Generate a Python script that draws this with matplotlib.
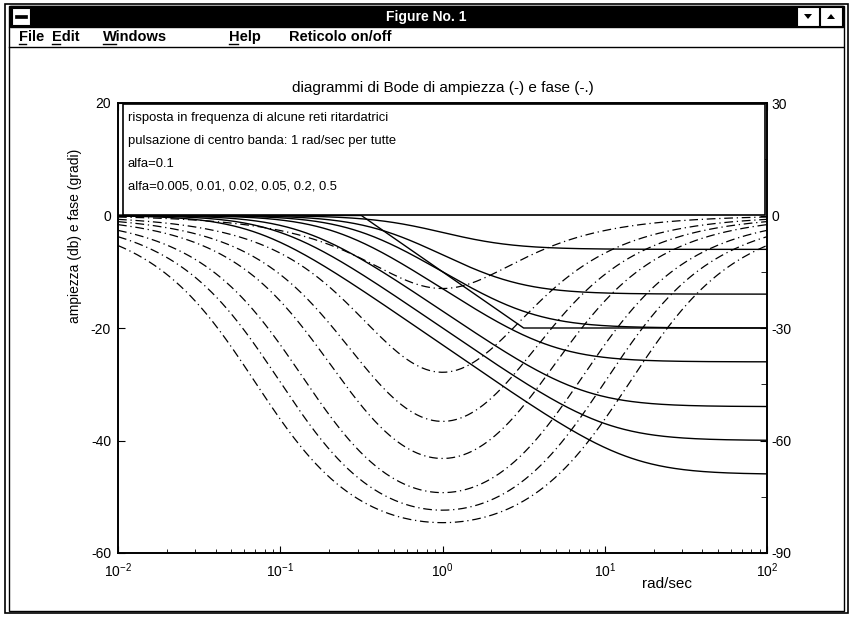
import numpy as np
import matplotlib.pyplot as plt
from matplotlib.patches import Rectangle, Polygon

plt.rcParams['font.family'] = ['Liberation Sans', 'DejaVu Sans']
plt.rcParams['axes.unicode_minus'] = False

# reti ritardatrici G(s) = (1 + alfa*T*s) / (1 + T*s), centro banda 1 rad/sec
alfa_values = [0.005, 0.01, 0.02, 0.05, 0.1, 0.2, 0.5]
alfa_asym = 0.1
w_min, w_max = 1e-2, 1e2

title = "diagrammi di Bode di ampiezza (-) e fase (-.)"
note_lines = [
    "risposta in frequenza di alcune reti ritardatrici",
    "pulsazione di centro banda: 1 rad/sec per tutte",
    "alfa=0.1",
    "alfa=0.005, 0.01, 0.02, 0.05, 0.2, 0.5",
]
menu_items = ["File", "Edit", "Windows", "Help", "Reticolo on/off"]
menu_x = [19, 52, 103, 229, 289]
menu_ul = [7, 8, 13, 9, 0]   # underline width of first letter (px)

w = np.logspace(np.log10(w_min), np.log10(w_max), 500)

fig = plt.figure(figsize=(8.51, 6.17), dpi=100)

# window chrome, drawn in pixel coordinates
bg = fig.add_axes([0, 0, 1, 1])
bg.set_xlim(0, 851)
bg.set_ylim(617, 0)
bg.axis('off')
bg.add_patch(Rectangle((5, 4), 843, 609, fill=False, lw=1.2, ec='black'))
bg.add_patch(Rectangle((9, 6), 835, 605, fill=False, lw=1.0, ec='black'))
bg.add_patch(Rectangle((10, 6), 833, 21, fc='black', ec='black'))
bg.add_patch(Rectangle((12, 8), 18, 17, fc='white', ec='black', lw=0.8))
bg.add_patch(Rectangle((15, 15), 12, 3, fc='black', ec='black', lw=0.5))
bg.add_patch(Rectangle((797, 7), 22, 19, fc='white', ec='black', lw=0.8))
bg.add_patch(Rectangle((820, 7), 22, 19, fc='white', ec='black', lw=0.8))
bg.add_patch(Polygon([(804, 14), (812, 14), (808, 19)], fc='black'))
bg.add_patch(Polygon([(827, 19), (835, 19), (831, 14)], fc='black'))
bg.text(426, 16.5, "Figure No. 1", color='white', fontsize=10, fontweight='bold',
        ha='center', va='center')
bg.plot([9, 843], [47, 47], color='black', lw=1.0)
for name, x, ul in zip(menu_items, menu_x, menu_ul):
    bg.text(x, 37, name, fontsize=10.5, fontweight='bold', ha='left', va='center')
    if ul:
        bg.plot([x, x + ul], [44, 44], color='black', lw=1.0)

# Bode plot
ax = fig.add_axes([118 / 851, 1 - 553 / 617, 649 / 851, 450 / 617])
ax2 = ax.twinx()

for alfa in alfa_values:
    T = 1 / np.sqrt(alfa)
    G = (1 + 1j * alfa * T * w) / (1 + 1j * T * w)
    ax.plot(w, 20 * np.log10(np.abs(G)), color='black', lw=1.0)
    ax2.plot(w, np.degrees(np.angle(G)), color='black', lw=0.9,
             linestyle=(0, (7, 3, 1, 3)))

# asintoti per alfa=0.1
wa = [w_min, np.sqrt(alfa_asym), 1 / np.sqrt(alfa_asym), w_max]
ma = [0, 0, 20 * np.log10(alfa_asym), 20 * np.log10(alfa_asym)]
ax.plot(wa, ma, color='black', lw=1.0)

ax.set_xscale('log')
ax.set_xlim(w_min, w_max)
ax.set_ylim(-60, 20)
ax.set_yticks([20, 0, -20, -40, -60])
ax2.set_ylim(-90, 30)
ax2.set_yticks([30, 0, -30, -60, -90])
ax2.set_yticks([15, -15, -45, -75], minor=True)
ax.tick_params(direction='in', which='both', top=True, right=False,
               labelsize=10, length=5)
ax.tick_params(axis='x', pad=6)
ax.tick_params(axis='y', pad=5)
ax.tick_params(which='minor', length=3)
ax2.tick_params(direction='in', which='both', labelsize=10, length=5)
ax2.tick_params(which='minor', length=4)
for a in (ax, ax2):
    for s in a.spines.values():
        s.set_linewidth(1.2)

# riquadro con il testo
ax2.add_patch(Rectangle((0.008, 0.751), 0.989, 0.247, transform=ax2.transAxes,
                        fc='white', ec='black', lw=1.2, zorder=5))
for i, line in enumerate(note_lines):
    ax2.text(0.0154, 0.9667 - i * 0.0511, line, transform=ax2.transAxes,
             fontsize=9.4, ha='left', va='center', zorder=6)

fig.text(443 / 851, 1 - 88 / 617, title, fontsize=11, ha='center', va='center')
fig.text(667 / 851, 1 - 584 / 617, "rad/sec", fontsize=11, ha='center', va='center')
fig.text(75 / 851, 1 - 236 / 617, "ampiezza (db) e fase (gradi)", fontsize=10,
         rotation=90, ha='center', va='center')

fig.savefig('out.png', dpi=100)
